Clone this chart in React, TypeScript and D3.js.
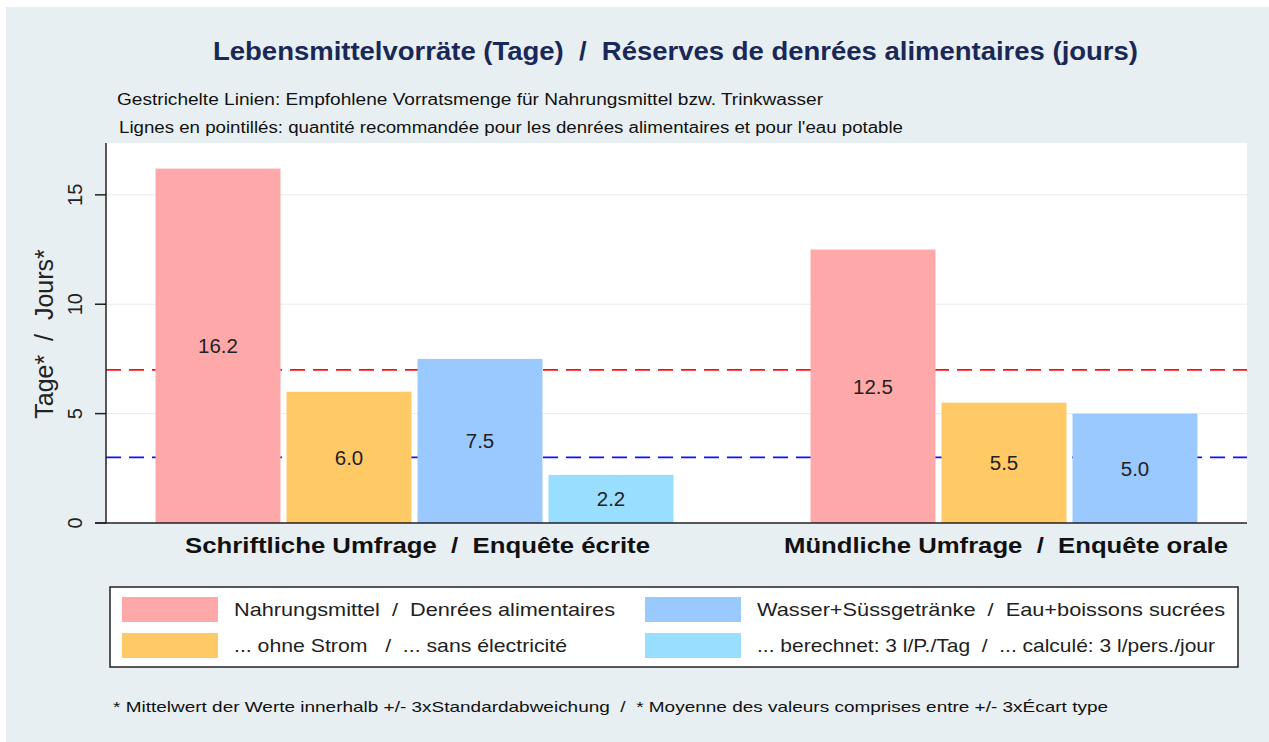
import React from "react";
import * as d3 from "d3";

const groups = ["Schriftliche Umfrage  /  Enquête écrite", "Mündliche Umfrage  /  Enquête orale"];
const seriesNames = [
  "Nahrungsmittel  /  Denrées alimentaires",
  "... ohne Strom   /  ... sans électricité",
  "Wasser+Süssgetränke  /  Eau+boissons sucrées",
  "... berechnet: 3 l/P./Tag  /  ... calculé: 3 l/pers./jour",
];
const seriesColors = ["#ffa8aa", "#ffc966", "#99c9ff", "#99ddff"];
const valuesWritten = [16.2, 6.0, 7.5, 2.2];
const valuesOral = [12.5, 5.5, 5.0];
const yTicks = [0, 5, 10, 15];
const refLines = [
  { value: 7, color: "#ff1010" },
  { value: 3, color: "#1010ff" },
];
const title = "Lebensmittelvorräte (Tage)  /  Réserves de denrées alimentaires (jours)";
const subtitle1 = "Gestrichelte Linien: Empfohlene Vorratsmenge für Nahrungsmittel bzw. Trinkwasser";
const subtitle2 = "Lignes en pointillés: quantité recommandée pour les denrées alimentaires et pour l'eau potable";
const footnote = "* Mittelwert der Werte innerhalb +/- 3xStandardabweichung  /  * Moyenne des valeurs comprises entre +/- 3xÉcart type";
const yLabel = "Tage*  /  Jours*";

const W = 1269;
const H = 742;
const plot = { left: 106, right: 1247, top: 143, bottom: 523 };
const font = "Arial, 'Liberation Sans', sans-serif";
const pre: React.CSSProperties = { whiteSpace: "pre" };

export default function App() {
  const y = d3.scaleLinear().domain([0, 17.37]).range([plot.bottom, plot.top]);
  // slots: group 1 uses 0..3, group 2 uses 5..7 (slot 4 is a gap)
  const slots = d3.range(8).map(String);
  const x = d3
    .scaleBand<string>()
    .domain(slots)
    .range([plot.left, plot.right])
    .paddingInner(0.046)
    .paddingOuter(0.378);

  const bars: { slot: number; value: number; color: string }[] = [];
  valuesWritten.forEach((v, i) => bars.push({ slot: i, value: v, color: seriesColors[i] }));
  valuesOral.forEach((v, i) => bars.push({ slot: 5 + i, value: v, color: seriesColors[i] }));

  const groupStarts = [185, 784];
  const groupLens = [465, 444];

  const legend = { x: 110, y: 587, w: 1128, h: 80 };
  const legendCols = [122, 645];
  const legendRows = [597, 633];
  const legendLens = [381, 333, 468, 458];

  return (
    <svg
      width={W}
      height={H}
      style={{ position: "absolute", left: 0, top: 0, display: "block" }}
      fontFamily={font}
    >
      <rect x={0} y={0} width={W} height={H} fill="#ffffff" />
      <rect x={6} y={7} width={W - 6} height={H - 7} fill="#e8eff2" />
      <text x={213} y={60} fontSize={25} fontWeight="bold" fill="#1a2857" textLength={925} lengthAdjust="spacingAndGlyphs" style={pre}>
        {title}
      </text>
      <text x={117} y={105} fontSize={16} fill="#111" textLength={706} lengthAdjust="spacingAndGlyphs" style={pre}>
        {subtitle1}
      </text>
      <text x={119} y={133} fontSize={16} fill="#111" textLength={784} lengthAdjust="spacingAndGlyphs" style={pre}>
        {subtitle2}
      </text>

      {/* plot area */}
      <rect x={plot.left} y={plot.top} width={plot.right - plot.left} height={plot.bottom - plot.top} fill="#ffffff" />
      {yTicks.filter((t) => t > 0).map((t) => (
        <line key={t} x1={plot.left} x2={plot.right} y1={y(t)} y2={y(t)} stroke="#eaeaea" strokeWidth={1} />
      ))}

      {refLines.map((r) => (
        <line
          key={r.value}
          x1={plot.left}
          x2={plot.right}
          y1={y(r.value)}
          y2={y(r.value)}
          stroke={r.color}
          strokeWidth={1.8}
          strokeDasharray="15 8"
        />
      ))}

      {bars.map((b, i) => {
        const bx = x(String(b.slot)) as number;
        return (
          <g key={"o" + i}>
            <rect x={bx} y={y(b.value)} width={x.bandwidth()} height={y(0) - y(b.value)} fill={b.color} />
            <text
              x={bx + x.bandwidth() / 2}
              y={(y(b.value) + y(0)) / 2}
              dy="0.36em"
              textAnchor="middle"
              fontSize={20.5}
              fill="#222"
            >
              {b.value.toFixed(1)}
            </text>
          </g>
        );
      })}

      {/* axes */}
      <line x1={plot.left} x2={plot.left} y1={plot.top} y2={plot.bottom + 0.5} stroke="#222" strokeWidth={1.5} />
      <line x1={plot.left - 11} x2={plot.right} y1={plot.bottom} y2={plot.bottom} stroke="#222" strokeWidth={1.5} />
      {yTicks.map((t) => (
        <g key={t}>
          <line x1={plot.left - 11} x2={plot.left} y1={y(t)} y2={y(t)} stroke="#222" strokeWidth={1.5} />
          <text
            transform={`translate(${82},${y(t)}) rotate(-90)`}
            textAnchor="middle"
            fontSize={20}
            fill="#222"
          >
            {t}
          </text>
        </g>
      ))}
      <text
        transform={`translate(${53},${(plot.top + plot.bottom) / 2 + 1}) rotate(-90)`}
        textAnchor="middle"
        fontSize={25}
        fill="#222"
        style={pre}
      >
        {yLabel}
      </text>

      {groups.map((g, i) => (
        <text
          key={g}
          x={groupStarts[i]}
          y={553}
          fontSize={22}
          fontWeight="bold"
          fill="#111"
          textLength={groupLens[i]}
          lengthAdjust="spacingAndGlyphs"
          style={pre}
        >
          {g}
        </text>
      ))}

      {/* legend */}
      <rect x={legend.x} y={legend.y} width={legend.w} height={legend.h} fill="#ffffff" stroke="#222" strokeWidth={1.5} />
      {seriesNames.map((s, i) => {
        const col = i < 2 ? 0 : 1;
        const row = i % 2;
        const sx = legendCols[col];
        const sy = legendRows[row];
        return (
          <g key={s}>
            <rect x={sx} y={sy} width={96} height={25} fill={seriesColors[i]} />
            <text
              x={sx + 112}
              y={sy + 12.5}
              dy="0.36em"
              fontSize={18.5}
              fill="#222"
              textLength={legendLens[i]}
              lengthAdjust="spacingAndGlyphs"
              style={pre}
            >
              {s}
            </text>
          </g>
        );
      })}

      <text x={113} y={712} fontSize={15} fill="#111" textLength={995} lengthAdjust="spacingAndGlyphs" style={pre}>
        {footnote}
      </text>
    </svg>
  );
}
